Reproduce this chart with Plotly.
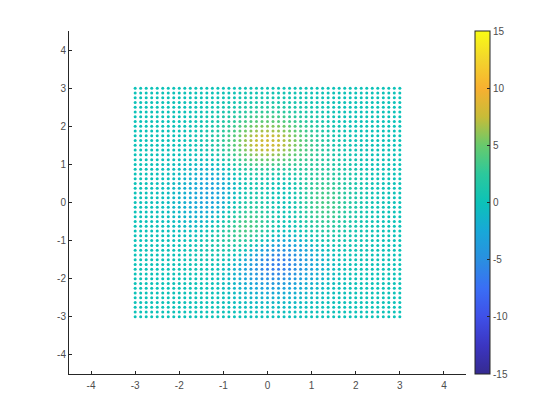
import plotly.graph_objects as go

x_values = [-3, -2.875, -2.75, -2.625, -2.5, -2.375, -2.25, -2.125, -2, -1.875, -1.75, -1.625, -1.5, -1.375, -1.25, -1.125, -1, -0.875, -0.75, -0.625, -0.5, -0.375, -0.25, -0.125, 0,
            0.125, 0.25, 0.375, 0.5, 0.625, 0.75, 0.875, 1, 1.125, 1.25, 1.375, 1.5, 1.625, 1.75, 1.875, 2, 2.125, 2.25, 2.375, 2.5, 2.625, 2.75, 2.875, 3]
y_values = [3, 2.875, 2.75, 2.625, 2.5, 2.375, 2.25, 2.125, 2, 1.875, 1.75, 1.625, 1.5, 1.375, 1.25, 1.125, 1, 0.875, 0.75, 0.625, 0.5, 0.375, 0.25, 0.125, 0,
            -0.125, -0.25, -0.375, -0.5, -0.625, -0.75, -0.875, -1, -1.125, -1.25, -1.375, -1.5, -1.625, -1.75, -1.875, -2, -2.125, -2.25, -2.375, -2.5, -2.625, -2.75, -2.875, -3]

# Colour value of each dot, one row per y value, left to right along x.
z_rows = [
[0,0,0,0,0,0,0,0,0,0,0,0,0,0,.1,.1,.1,.1,.2,.2,.2,.3,.3,.3,.3,.3,.3,.3,.2,.2,.2,.1,.1,.1,.1,0,0,0,0,0,0,0,0,0,0,0,0,0,0],
[0,0,0,0,0,0,0,0,0,0,0,0,.1,.1,.1,.1,.2,.2,.3,.4,.4,.5,.5,.5,.5,.5,.5,.5,.4,.4,.3,.2,.2,.1,.1,.1,.1,0,0,0,0,0,0,0,0,0,0,0,0],
[0,0,0,0,0,0,0,0,0,0,0,.1,.1,.1,.2,.2,.3,.4,.5,.6,.6,.7,.8,.8,.8,.8,.8,.7,.6,.6,.5,.4,.3,.2,.2,.1,.1,.1,0,0,0,0,0,0,0,0,0,0,0],
[0,0,0,0,0,0,0,0,0,0,.1,.1,.1,.2,.3,.4,.5,.6,.7,.9,1,1.1,1.2,1.3,1.3,1.3,1.2,1.1,1,.9,.7,.6,.5,.4,.3,.2,.1,.1,.1,0,0,0,0,0,0,0,0,0,0],
[0,0,0,0,0,0,0,0,0,.1,.1,.1,.2,.3,.4,.5,.7,.9,1.1,1.3,1.5,1.7,1.8,1.9,1.9,1.9,1.8,1.7,1.5,1.3,1.1,.9,.7,.5,.4,.3,.2,.1,.1,.1,0,0,0,0,0,0,0,0,0],
[0,0,0,0,0,0,0,0,0,.1,.1,.2,.3,.4,.6,.8,1,1.3,1.5,1.8,2.1,2.3,2.5,2.6,2.7,2.6,2.5,2.3,2.1,1.8,1.5,1.3,1,.8,.6,.4,.3,.2,.1,.1,0,0,0,0,0,0,0,0,0],
[0,0,0,0,0,0,0,0,.1,.1,.2,.3,.4,.5,.8,1,1.4,1.7,2.1,2.5,2.8,3.2,3.4,3.6,3.7,3.6,3.4,3.2,2.8,2.5,2.1,1.7,1.4,1,.8,.5,.4,.3,.2,.1,.1,0,0,0,0,0,0,0,0],
[0,0,0,0,0,0,0,.1,.1,.1,.2,.3,.5,.7,1,1.3,1.7,2.1,2.6,3.1,3.6,4,4.3,4.5,4.6,4.5,4.3,4,3.6,3.1,2.6,2.1,1.7,1.3,1,.7,.5,.3,.2,.1,.1,.1,0,0,0,0,0,0,0],
[0,0,0,0,0,0,0,0,0,.1,.2,.3,.5,.8,1.1,1.5,2.1,2.6,3.2,4,4.6,5.1,5.5,5.7,5.9,5.7,5.5,5.1,4.6,4,3.3,2.8,2.3,1.7,1.3,1,.7,.5,.3,.2,.1,.1,0,0,0,0,0,0,0],
[0,0,0,0,0,0,0,0,0,.1,.2,.4,.6,.9,1.3,1.8,2.4,3,3.7,4.6,5.2,5.8,6.3,6.6,6.7,6.6,6.3,5.8,5.2,4.6,3.9,3.2,2.6,2,1.5,1.1,.8,.6,.4,.2,.1,.1,0,0,0,0,0,0,0],
[0,0,0,0,0,0,0,0,0,.1,.3,.4,.6,1,1.4,2,2.6,3.5,4.3,5.1,6,6.7,7.2,7.5,7.7,7.5,7.2,6.7,6,5.2,4.5,3.7,2.9,2.4,1.8,1.4,1,.6,.5,.3,.2,.1,0,0,0,0,0,0,0],
[0,0,0,0,0,0,0,0,0,.1,.2,.4,.6,.9,1.4,1.9,2.7,3.5,4.4,5.3,6.2,6.9,7.4,7.7,7.9,7.7,7.4,6.9,6.2,5.5,4.6,3.9,3.1,2.4,2,1.5,1,.8,.6,.3,.2,.2,0,0,0,0,0,0,0],
[0,0,0,0,0,-.1,-.1,0,-.1,0,.1,.3,.4,.8,1.3,1.8,2.7,3.4,4.4,5.3,6.2,7,7.5,7.8,8,7.8,7.5,7,6.2,5.5,4.8,3.9,3.3,2.6,2.1,1.6,1.1,.9,.6,.4,.3,.2,.1,0,0,0,0,0,0],
[0,0,0,0,-.1,-.1,-.1,-.1,-.2,-.2,-.1,0,.3,.5,1,1.5,2.2,3,3.9,4.8,5.7,6.4,7,7.3,7.4,7.2,6.9,6.4,5.8,5.1,4.4,3.8,3.1,2.6,2.1,1.6,1.3,.9,.7,.5,.3,.2,.1,.1,0,0,0,0,0],
[0,0,0,0,-.1,-.1,-.2,-.1,-.2,-.2,-.2,-.2,0,.2,.5,1,1.7,2.5,3.2,4.2,4.9,5.6,6,6.3,6.4,6.2,5.9,5.6,5,4.6,3.9,3.5,3,2.5,2.1,1.7,1.4,1,.8,.6,.4,.3,.1,.1,.1,0,0,0,0],
[0,0,0,-.1,-.1,-.1,-.2,-.2,-.3,-.4,-.5,-.5,-.5,-.3,0,.4,1,1.6,2.4,3.1,3.8,4.4,4.8,4.9,5,4.8,4.6,4.3,3.9,3.6,3.3,2.9,2.7,2.3,2.1,1.8,1.4,1.2,.9,.7,.5,.4,.2,.1,.1,.1,0,0,0],
[0,0,0,-.1,-.1,-.2,-.3,-.4,-.5,-.6,-.7,-.8,-.9,-.8,-.6,-.3,.3,.8,1.5,2.2,2.8,3.3,3.6,3.7,3.7,3.5,3.4,3.1,3,2.8,2.7,2.6,2.5,2.3,2.1,1.9,1.6,1.3,1.1,.8,.6,.4,.3,.2,.1,.1,0,0,0],
[0,0,-.1,-.1,-.2,-.2,-.4,-.5,-.7,-.8,-1.1,-1.2,-1.4,-1.3,-1.2,-.9,-.5,0,.7,1.3,1.9,2.2,2.4,2.5,2.5,2.2,2.1,2,2,2,2.1,2.2,2.3,2.3,2.2,2,1.7,1.5,1.2,1,.7,.5,.3,.2,.1,.1,0,0,0],
[0,0,-.1,-.1,-.2,-.3,-.4,-.6,-.8,-1.1,-1.3,-1.6,-1.8,-1.9,-1.8,-1.5,-1.2,-.6,0,.5,1.1,1.4,1.6,1.5,1.5,1.2,1.2,1.1,1.2,1.4,1.7,1.9,2.2,2.3,2.3,2.2,2,1.7,1.4,1.1,.8,.6,.4,.3,.2,.1,.1,0,0],
[0,0,-.1,-.1,-.1,-.2,-.3,-.5,-1,-1.3,-1.6,-1.9,-2.2,-2.3,-2.3,-2.1,-1.7,-1.1,-.5,.1,.6,.9,1,1,.8,.6,.5,.5,.7,1,1.4,1.9,2.2,2.5,2.6,2.5,2.3,2,1.7,1.3,1,.7,.5,.3,.2,.1,.1,0,0],
[0,-.1,-.1,-.2,-.2,-.4,-.6,-.8,-1.1,-1.5,-1.9,-2.2,-2.5,-2.7,-2.7,-2.4,-2,-1.4,-.8,-.1,.4,.7,.8,.7,.5,.2,.1,.1,.4,.8,1.3,1.9,2.4,2.7,2.8,2.8,2.6,2.2,1.8,1.4,1.1,.8,.5,.4,.2,.1,.1,0,0],
[0,-.1,-.1,-.2,-.3,-.4,-.6,-.9,-1.2,-1.6,-2,-2.4,-2.7,-2.9,-2.9,-2.6,-2.2,-1.5,-.8,-.1,.5,.8,.8,.7,.4,.3,0,0,.3,.8,1.4,2,2.6,2.9,3.1,3.1,2.8,2.4,2,1.6,1.2,.9,.6,.4,.3,.2,.1,.1,0],
[0,-.1,-.1,-.2,-.3,-.5,-.7,-1,-1.3,-1.7,-2.2,-2.6,-2.9,-3,-3,-2.7,-2.2,-1.4,-.7,.1,.7,1,1,.9,.5,.2,0,0,.3,.8,1.5,2.2,2.8,3.2,3.4,3.3,3.1,2.6,2.2,1.7,1.3,.9,.7,.4,.3,.2,.1,.1,0],
[0,-.1,-.1,-.2,-.3,-.5,-.7,-1,-1.3,-1.8,-2.2,-2.6,-2.9,-3,-2.9,-2.6,-2,-1.2,-.4,.4,1,1.3,1.4,1.1,.7,.3,.1,.1,.3,.9,1.5,2.3,2.9,3.3,3.5,3.4,3.2,2.7,2.3,1.8,1.4,1,.7,.4,.3,.2,.1,.1,0],
[0,-.1,-.1,-.2,-.3,-.5,-.7,-1,-1.3,-1.7,-2.2,-2.5,-2.8,-2.9,-2.7,-2.3,-1.7,-.8,0,.9,1.5,1.8,1.8,1.4,1,.5,.2,.1,.4,.9,1.6,2.3,2.9,3.4,3.6,3.5,3.2,2.8,2.4,1.9,1.4,1,.7,.5,.3,.2,.1,.1,0],
[0,-.1,-.1,-.2,-.3,-.5,-.7,-1,-1.2,-1.6,-2,-2.3,-2.5,-2.5,-2.3,-1.9,-1.2,-.3,.6,1.4,2,2.2,2.2,1.8,1.3,.7,.4,.2,.4,.9,1.6,2.3,2.9,3.3,3.5,3.4,3.2,2.8,2.3,1.8,1.4,1,.7,.4,.3,.2,.1,.1,0],
[0,-.1,-.1,-.2,-.3,-.4,-.6,-.9,-1.1,-1.5,-1.8,-2,-2.2,-2.1,-1.9,-1.3,-.6,.4,1.2,2.1,2.6,2.8,2.6,2.2,1.6,.8,.5,.4,.5,.9,1.5,2.2,2.8,3.2,3.4,3.3,3.1,2.7,2.2,1.7,1.3,.9,.7,.4,.3,.2,.1,.1,0],
[0,0,-.1,-.1,-.2,-.4,-.5,-.8,-1,-1.2,-1.5,-1.7,-1.7,-1.6,-1.2,-.6,.1,1,1.9,2.7,3.2,3.2,3,2.5,1.9,1.2,.7,.4,.5,.8,1.4,2,2.6,2.9,3.1,3.1,2.9,2.4,2,1.6,1.2,.9,.6,.4,.2,.1,.1,0,0],
[0,0,-.1,-.1,-.2,-.3,-.4,-.6,-.8,-1,-1.2,-1.2,-1.2,-1,-.6,0,.8,1.7,2.4,3.2,3.6,3.6,3.3,2.7,2,1.3,.7,.4,.4,.7,1.1,1.7,2.2,2.6,2.7,2.7,2.5,2.2,1.8,1.4,1.1,.8,.5,.4,.2,.1,.1,.1,0],
[0,0,-.1,-.1,-.2,-.2,-.4,-.5,-.6,-.7,-.8,-.9,-.7,-.5,0,.6,1.4,2.2,2.9,3.5,3.8,3.7,3.3,2.6,1.9,1.1,.5,.2,.1,.4,.8,1.3,1.8,2.1,2.3,2.3,2.1,1.9,1.6,1.3,.9,.7,.5,.3,.2,.1,.1,0,0],
[0,0,0,-.1,-.1,-.2,-.2,-.4,-.4,-.5,-.5,-.5,-.3,0,.5,1.1,1.8,2.5,3,3.5,3.7,3.4,2.9,2.2,1.4,.6,0,-.3,-.4,-.2,.2,.7,1.2,1.5,1.8,1.8,1.8,1.5,1.3,1,.8,.6,.4,.3,.2,.1,.1,0,0],
[0,0,0,-.1,-.1,-.1,-.2,-.3,-.3,-.3,-.2,-.2,.1,.4,.8,1.3,1.9,2.5,2.9,3.2,3.1,2.7,2.1,1.3,.5,-.3,-.9,-1.2,-1.2,-1,-.5,0,.5,.9,1.2,1.3,1.3,1.1,1,.8,.6,.4,.3,.2,.1,.1,0,0,0],
[0,0,0,0,-.1,-.1,-.1,-.2,-.1,-.1,0,.1,.3,.6,1,1.4,1.8,2.2,2.4,2.5,2.3,1.7,1,.1,-.7,-1.5,-2,-2.3,-2.2,-1.9,-1.4,-.8,-.3,.2,.6,.8,.9,.9,.8,.6,.5,.4,.3,.2,.1,.1,0,0,0],
[0,0,0,0,0,-.1,0,-.1,0,0,.1,.2,.4,.7,1,1.3,1.5,1.7,1.7,1.6,1.2,.4,-.4,-1.2,-2.1,-2.8,-3.3,-3.4,-3.3,-2.9,-2.3,-1.7,-1,-.4,0,.3,.5,.5,.5,.4,.4,.3,.2,.1,.1,0,0,0,0],
[0,0,0,0,0,0,0,0,0,.1,.2,.3,.4,.6,.8,1,1.1,1.1,.8,.5,-.1,-1,-1.9,-2.8,-3.6,-4.2,-4.6,-4.7,-4.4,-3.9,-3.2,-2.5,-1.8,-1.1,-.6,-.2,.1,.2,.3,.3,.2,.2,.1,.1,.1,0,0,0,0],
[0,0,0,0,0,0,0,0,.1,.1,.2,.3,.4,.6,.6,.7,.6,.4,0,-.5,-1.2,-2.2,-3.1,-4,-4.8,-5.3,-5.7,-5.6,-5.3,-4.7,-3.9,-3.1,-2.3,-1.5,-1,-.5,-.2,0,.1,.1,.1,.1,.1,0,0,0,0,0,0],
[0,0,0,0,0,0,0,0,.1,.1,.2,.2,.3,.4,.4,.3,.1,-.2,-.7,-1.4,-2.2,-3.1,-4.1,-4.9,-5.7,-6.1,-6.3,-6.2,-5.8,-5.1,-4.3,-3.5,-2.6,-1.9,-1.3,-.8,-.4,-.2,-.1,0,0,0,0,0,0,0,0,0,0],
[0,0,0,0,0,0,0,0,.1,.1,.2,.2,.3,.3,.2,.1,-.2,-.5,-1.1,-1.8,-2.6,-3.5,-4.4,-5.2,-5.9,-6.2,-6.4,-6.2,-5.8,-5.1,-4.3,-3.5,-2.7,-2,-1.4,-.9,-.6,-.3,-.2,-.1,0,0,0,0,0,0,0,0,0],
[0,0,0,0,0,0,0,0,.1,.1,.1,.2,.2,.1,0,-.2,-.5,-.9,-1.5,-2.2,-3,-3.9,-4.7,-5.4,-6,-6.3,-6.4,-6.1,-5.7,-5,-4.3,-3.5,-2.7,-2,-1.4,-1,-.6,-.4,-.2,-.1,0,0,0,0,0,0,0,0,0],
[0,0,0,0,0,0,0,0,.1,.1,.1,.1,.1,.1,0,-.2,-.5,-.9,-1.5,-2.1,-2.8,-3.6,-4.2,-4.8,-5.3,-5.5,-5.6,-5.4,-5,-4.4,-3.7,-3,-2.4,-1.8,-1.3,-.9,-.6,-.4,-.2,-.1,-.1,0,0,0,0,0,0,0,0],
[0,0,0,0,0,0,0,0,0,0,.1,.1,.1,0,-.1,-.3,-.6,-.9,-1.4,-2,-2.6,-3.3,-3.9,-4.4,-4.8,-4.9,-4.9,-4.7,-4.4,-3.9,-3.3,-2.7,-2.1,-1.6,-1.2,-.9,-.6,-.4,-.2,-.1,-.1,0,0,0,0,0,0,0,0],
[0,0,0,0,0,0,0,0,0,.1,.1,.1,0,0,-.1,-.3,-.5,-.7,-1.1,-1.6,-2.1,-2.6,-3.1,-3.5,-3.8,-3.9,-3.9,-3.7,-3.4,-3,-2.6,-2.1,-1.7,-1.3,-1,-.7,-.5,-.3,-.2,-.1,-.1,-.1,0,0,0,0,0,0,0],
[0,0,0,0,0,0,0,0,0,.1,0,0,0,0,-.1,-.2,-.5,-.7,-1,-1.4,-1.7,-2.2,-2.5,-2.8,-3,-3.1,-3.1,-3,-2.7,-2.4,-2.1,-1.7,-1.4,-1,-.8,-.5,-.4,-.3,-.2,-.1,-.1,0,0,0,0,0,0,0,0],
[0,0,0,0,0,0,0,0,.1,0,.1,0,0,0,-.1,-.2,-.3,-.6,-.7,-1,-1.3,-1.6,-1.8,-2,-2.3,-2.3,-2.3,-2.2,-2,-1.8,-1.5,-1.3,-1,-.8,-.6,-.4,-.3,-.2,-.1,-.1,0,0,0,0,0,0,0,0,0],
[0,0,0,0,0,0,0,0,0,0,0,0,0,0,-.1,-.1,-.2,-.4,-.6,-.7,-.9,-1.2,-1.3,-1.5,-1.6,-1.7,-1.6,-1.6,-1.4,-1.3,-1.1,-.9,-.7,-.5,-.4,-.3,-.2,-.1,-.1,-.1,0,0,0,0,0,0,0,0,0],
[0,0,0,0,0,0,0,0,0,0,0,0,0,0,-.1,-.1,-.2,-.3,-.4,-.5,-.6,-.8,-.9,-1,-1.1,-1.1,-1.1,-1,-1,-.9,-.7,-.6,-.5,-.4,-.3,-.2,-.1,-.1,-.1,0,0,0,0,0,0,0,0,0,0],
[0,0,0,0,0,0,0,0,0,0,0,0,0,0,0,0,-.1,-.2,-.2,-.3,-.4,-.5,-.6,-.6,-.7,-.7,-.7,-.7,-.6,-.6,-.5,-.4,-.3,-.2,-.2,-.1,-.1,0,0,0,0,0,0,0,0,0,0,0,0],
[0,0,0,0,0,0,0,0,0,0,0,0,0,0,0,0,-.1,-.1,-.1,-.2,-.2,-.3,-.4,-.4,-.4,-.5,-.5,-.4,-.4,-.4,-.3,-.2,-.2,-.1,-.1,-.1,-.1,0,0,0,0,0,0,0,0,0,0,0,0],
[0,0,0,0,0,0,0,0,0,0,0,0,0,0,0,0,0,0,-.1,-.1,-.1,-.2,-.2,-.2,-.2,-.3,-.3,-.3,-.2,-.2,-.2,-.1,-.1,-.1,-.1,0,0,0,0,0,0,0,0,0,0,0,0,0,0],
]

axis_ticks = [-4, -3, -2, -1, 0, 1, 2, 3, 4]
axis_tick_labels = ["-4", "-3", "-2", "-1", "0", "1", "2", "3", "4"]
bar_ticks = [-15, -10, -5, 0, 5, 10, 15]
bar_tick_labels = ["-15", "-10", "-5", "0", "5", "10", "15"]

colour_stops = [
    [0.0, "#352a90"], [0.08, "#3b35c0"], [0.167, "#3f50e8"], [0.25, "#3a6ef5"],
    [0.333, "#2a8fe0"], [0.417, "#18a8d8"], [0.5, "#0cc2b8"], [0.583, "#2cc89c"],
    [0.667, "#68ca6c"], [0.75, "#c8bc38"], [0.833, "#f8b030"], [0.917, "#f2d52c"],
    [1.0, "#f9fb15"],
]

for r in z_rows:
    assert len(r) == len(x_values), [len(q) for q in z_rows]
assert len(z_rows) == len(y_values)

xs, ys, zs = [], [], []
for y, row in zip(y_values, z_rows):
    for x, z in zip(x_values, row):
        xs.append(x)
        ys.append(y)
        zs.append(z)

LINE = "#262626"
TEXT = "#4d4d4d"
FONT = "Liberation Sans"

fig = go.Figure(go.Scatter(
    x=xs, y=ys, mode="markers",
    marker=dict(
        size=3, color=zs, cmin=-15, cmax=15, colorscale=colour_stops,
        line=dict(width=0),
        colorbar=dict(
            x=1.0227, xanchor="left", y=0.5, yanchor="middle", len=1, lenmode="fraction",
            thickness=15, thicknessmode="pixels", xpad=0, ypad=0,
            outlinecolor=LINE, outlinewidth=1,
            ticks="inside", ticklen=3, tickcolor=LINE, tickwidth=1,
            tickmode="array", tickvals=bar_ticks, ticktext=bar_tick_labels,
            tickfont=dict(family=FONT, size=10, color=TEXT),
        ),
    ),
    hoverinfo="skip",
))

axis_style = dict(
    tickmode="array", tickvals=axis_ticks, ticktext=axis_tick_labels,
    range=[-4.5, 4.5], showgrid=False, zeroline=False,
    showline=True, linecolor=LINE, linewidth=1, mirror=False,
    ticks="inside", ticklen=3, tickcolor=LINE, tickwidth=1,
    tickfont=dict(family=FONT, size=10, color=TEXT),
)

fig.update_layout(
    width=552, height=412,
    margin=dict(l=61, r=94, t=23, b=46, autoexpand=False),
    paper_bgcolor="white", plot_bgcolor="white", showlegend=False,
    xaxis=dict(axis_style, ticklabelstandoff=2), yaxis=axis_style,
    font=dict(family=FONT, size=10, color=TEXT),
)

fig.write_html("out.html", config={"displayModeBar": False})
